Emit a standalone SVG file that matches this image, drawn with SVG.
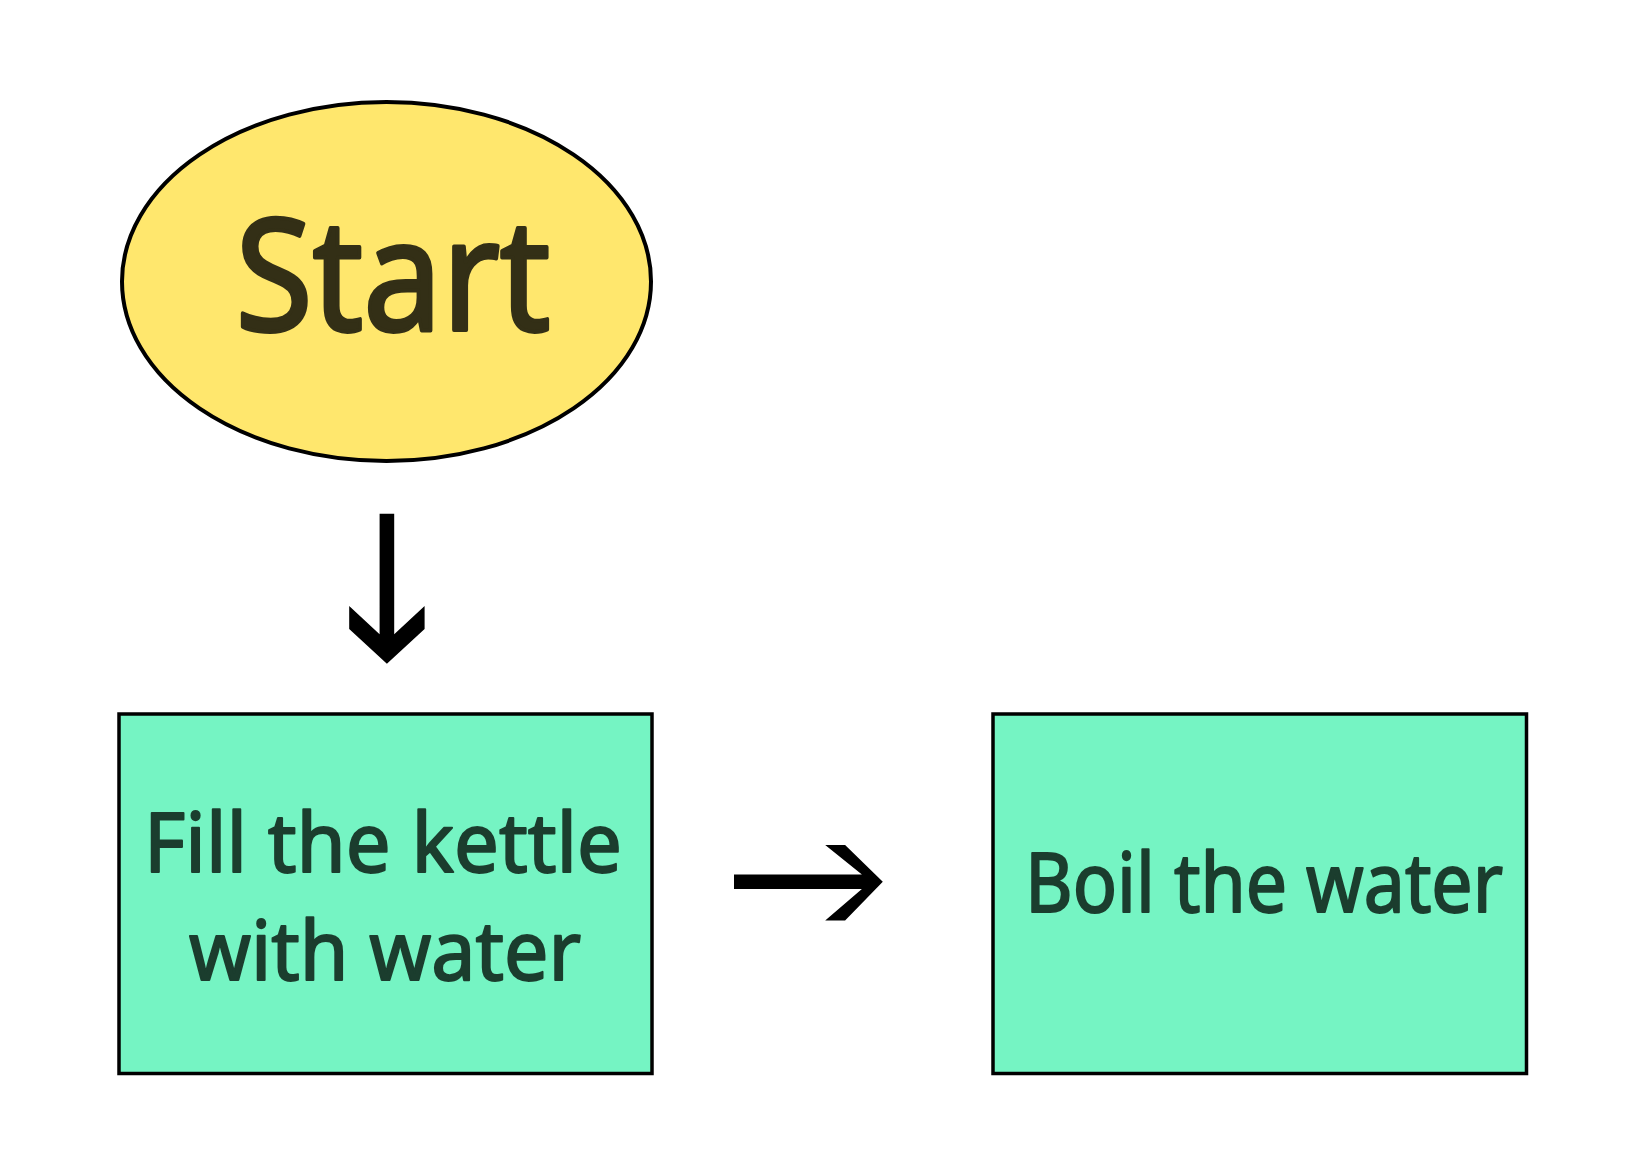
<svg xmlns="http://www.w3.org/2000/svg" width="1644" height="1175" viewBox="0 0 1644 1175">
<style>
.lbl{font-family:"Noto Sans","DejaVu Sans",sans-serif;text-anchor:middle;stroke-linejoin:round;stroke-linecap:round}
.box{fill:#75f4c3;stroke:#000;stroke-width:3.5}
.btxt{fill:#1b3d2e;stroke:#1b3d2e;stroke-width:2;font-size:82px}
.arrow{fill:#000}
</style>
<rect width="1644" height="1175" fill="#fff"/>
<g id="start">
<ellipse cx="386.5" cy="281.5" rx="264.5" ry="179.5" fill="#ffe76d" stroke="#000" stroke-width="4"/>
<text class="lbl" x="393" y="330" font-size="156" fill="#332f16" stroke="#332f16" stroke-width="4" textLength="315" lengthAdjust="spacingAndGlyphs">Start</text>
</g>
<g id="fill">
<rect class="box" x="119" y="714" width="533" height="359.5"/>
<text class="lbl btxt" x="383" y="872" textLength="478" lengthAdjust="spacingAndGlyphs">Fill the kettle</text>
<text class="lbl btxt" x="385" y="980" textLength="392" lengthAdjust="spacingAndGlyphs">with water</text>
</g>
<g id="boil">
<rect class="box" x="993" y="714" width="533.5" height="359.5"/>
<text class="lbl btxt" x="1264" y="912" font-size="80" textLength="478" lengthAdjust="spacingAndGlyphs">Boil the water</text>
</g>
<g id="connectors">
<polygon class="arrow" points="379.6,513.8 394.2,513.8 394.2,634.3 424.6,606 424.6,629 386.9,663.7 349.2,629 349.2,606 379.6,634.3"/>
<polygon class="arrow" points="734,874.4 861.9,874.4 825.2,845.1 845.1,845.1 882.8,881.8 845.1,920.6 825.2,920.6 861.9,889.1 734,889.1"/>
</g>
</svg>
